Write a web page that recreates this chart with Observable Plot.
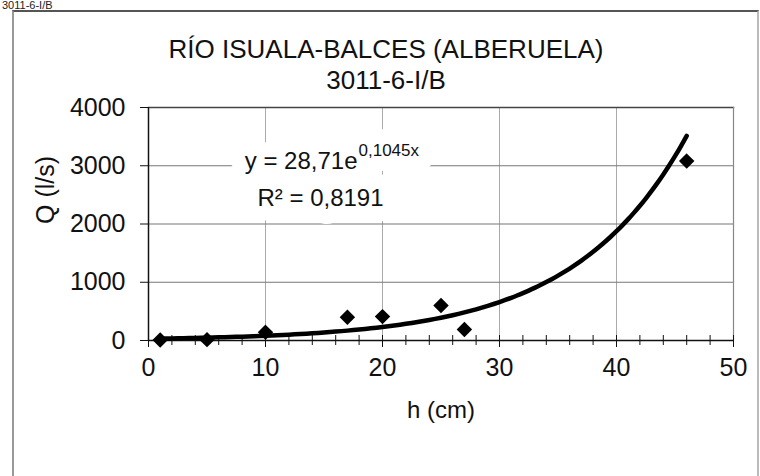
<!DOCTYPE html>
<html>
<head>
<meta charset="utf-8">
<script src="https://cdn.jsdelivr.net/npm/d3@7"></script>
<script src="https://cdn.jsdelivr.net/npm/@observablehq/plot@0.6"></script>
<style>
  html, body { margin: 0; padding: 0; background: #fff; overflow: hidden; }
  #wrap { position: relative; width: 760px; height: 476px; font-family: "Liberation Sans", Arial, sans-serif; }
  #frame { position: absolute; left: 12px; top: 10px; width: 743px; height: 480px;
           border-top: 2px solid #555; border-left: 2px solid #999; border-right: 2px solid #bbb; }
  #clip { position: absolute; left: 2px; top: 0px; font-size: 11px; line-height: 10px; color: #222; white-space: nowrap; }
  #chart { position: absolute; left: 0; top: 0; }
</style>
</head>
<body>
<div id="wrap">
  <div id="clip">3011-6-I/B</div>
  <div id="frame"></div>
  <div id="chart"></div>
</div>
<script>
// Measured points: h (cm) vs Q (l/s)
const h = [1, 5, 10, 17, 20, 25, 27, 46];
const Q = [10, 15, 140, 400, 410, 600, 190, 3080];

// Exponential trendline shown on the chart: y = 28,71 e^(0,1045 x)
const trendA = 28.71;
const trendB = 0.1045;
const trendH = d3.range(1, 46.01, 0.5);

const xTicks = [0, 10, 20, 30, 40, 50];
const xMinorTicks = d3.range(0, 51, 2);
const yTicks = [0, 1000, 2000, 3000, 4000];
const xGrid = [10, 20, 30, 40];
const yGrid = [1000, 2000, 3000];

const titleLines = ["RÍO ISUALA-BALCES (ALBERUELA)", "3011-6-I/B"];
const xLabel = "h (cm)";
const yLabel = "Q (l/s)";
const eqMain = "y = 28,71e";
const eqSup = "0,1045x";
const eqR2 = "R² = 0,8191";

const points = h.map((v, i) => ({h: v, Q: Q[i]}));
const curve = trendH.map(x => ({h: x, Q: trendA * Math.exp(trendB * x)}));

const eqTexts = [
  {t: eqMain, anchor: "end", dx: 209, dy: 61, size: 24},
  {t: eqSup, anchor: "start", dx: 210, dy: 48, size: 17},
  {t: eqR2, anchor: "middle", dx: 172, dy: 98, size: 24}
];

const eqMarks = (halo) => eqTexts.map(e => Plot.text([e.t], {
  frameAnchor: "top-left", dx: e.dx, dy: e.dy, text: d => d,
  textAnchor: e.anchor, lineAnchor: "bottom", fontSize: e.size,
  fill: halo ? "white" : "#111",
  stroke: halo ? "white" : null, strokeWidth: halo ? 30 : null
}));

const chart = Plot.plot({
  width: 760,
  height: 476,
  marginLeft: 148,
  marginRight: 27,
  marginTop: 107,
  marginBottom: 136,
  style: {fontFamily: "'Liberation Sans', Arial, sans-serif", fontSize: "25px", color: "#111", background: "transparent"},
  x: {domain: [0, 50]},
  y: {domain: [0, 4000]},
  marks: [
    Plot.gridX(xGrid, {stroke: "#aaa", strokeOpacity: 1, strokeWidth: 1}),
    Plot.gridY(yGrid, {stroke: "#777", strokeOpacity: 1, strokeWidth: 1.2}),
    Plot.frame({anchor: "top", stroke: "#444", strokeWidth: 1.5}),
    Plot.frame({anchor: "right", stroke: "#888", strokeWidth: 1.2}),
    ...eqMarks(true),
    ...eqMarks(false),
    Plot.axisY({ticks: yTicks, tickSize: 8, tickPadding: 15, label: null, tickFormat: d => String(d), fontSize: 25}),
    Plot.axisX({ticks: xMinorTicks, tickSize: 5, text: null, label: null}),
    Plot.axisX({ticks: xMinorTicks, tickSize: -5, text: null, label: null}),
    Plot.axisX({ticks: xTicks, tickSize: 7, tickPadding: 11, label: null, tickFormat: d => String(d), fontSize: 25}),
    Plot.ruleX([0], {stroke: "#111", strokeWidth: 1.5}),
    Plot.ruleY([0], {stroke: "#111", strokeWidth: 1.5}),
    Plot.line(curve, {x: "h", y: "Q", stroke: "#000", strokeWidth: 4.5, curve: "natural"}),
    Plot.dot(points, {x: "h", y: "Q", symbol: "diamond2", r: 6, fill: "#000", stroke: "#000"}),
    Plot.text([titleLines[0]], {frameAnchor: "top", text: d => d, dx: -55, dy: -58, fontSize: 26, lineAnchor: "middle"}),
    Plot.text([titleLines[1]], {frameAnchor: "top", text: d => d, dx: -55, dy: -27, fontSize: 26, lineAnchor: "middle"}),
    Plot.text([xLabel], {frameAnchor: "bottom", text: d => d, dy: 70, fontSize: 24, lineAnchor: "middle"}),
    Plot.text([yLabel], {frameAnchor: "left", text: d => d, dx: -103, rotate: -90, fontSize: 25, lineAnchor: "middle"})
  ]
});
document.getElementById("chart").appendChild(chart);
</script>
</body>
</html>
